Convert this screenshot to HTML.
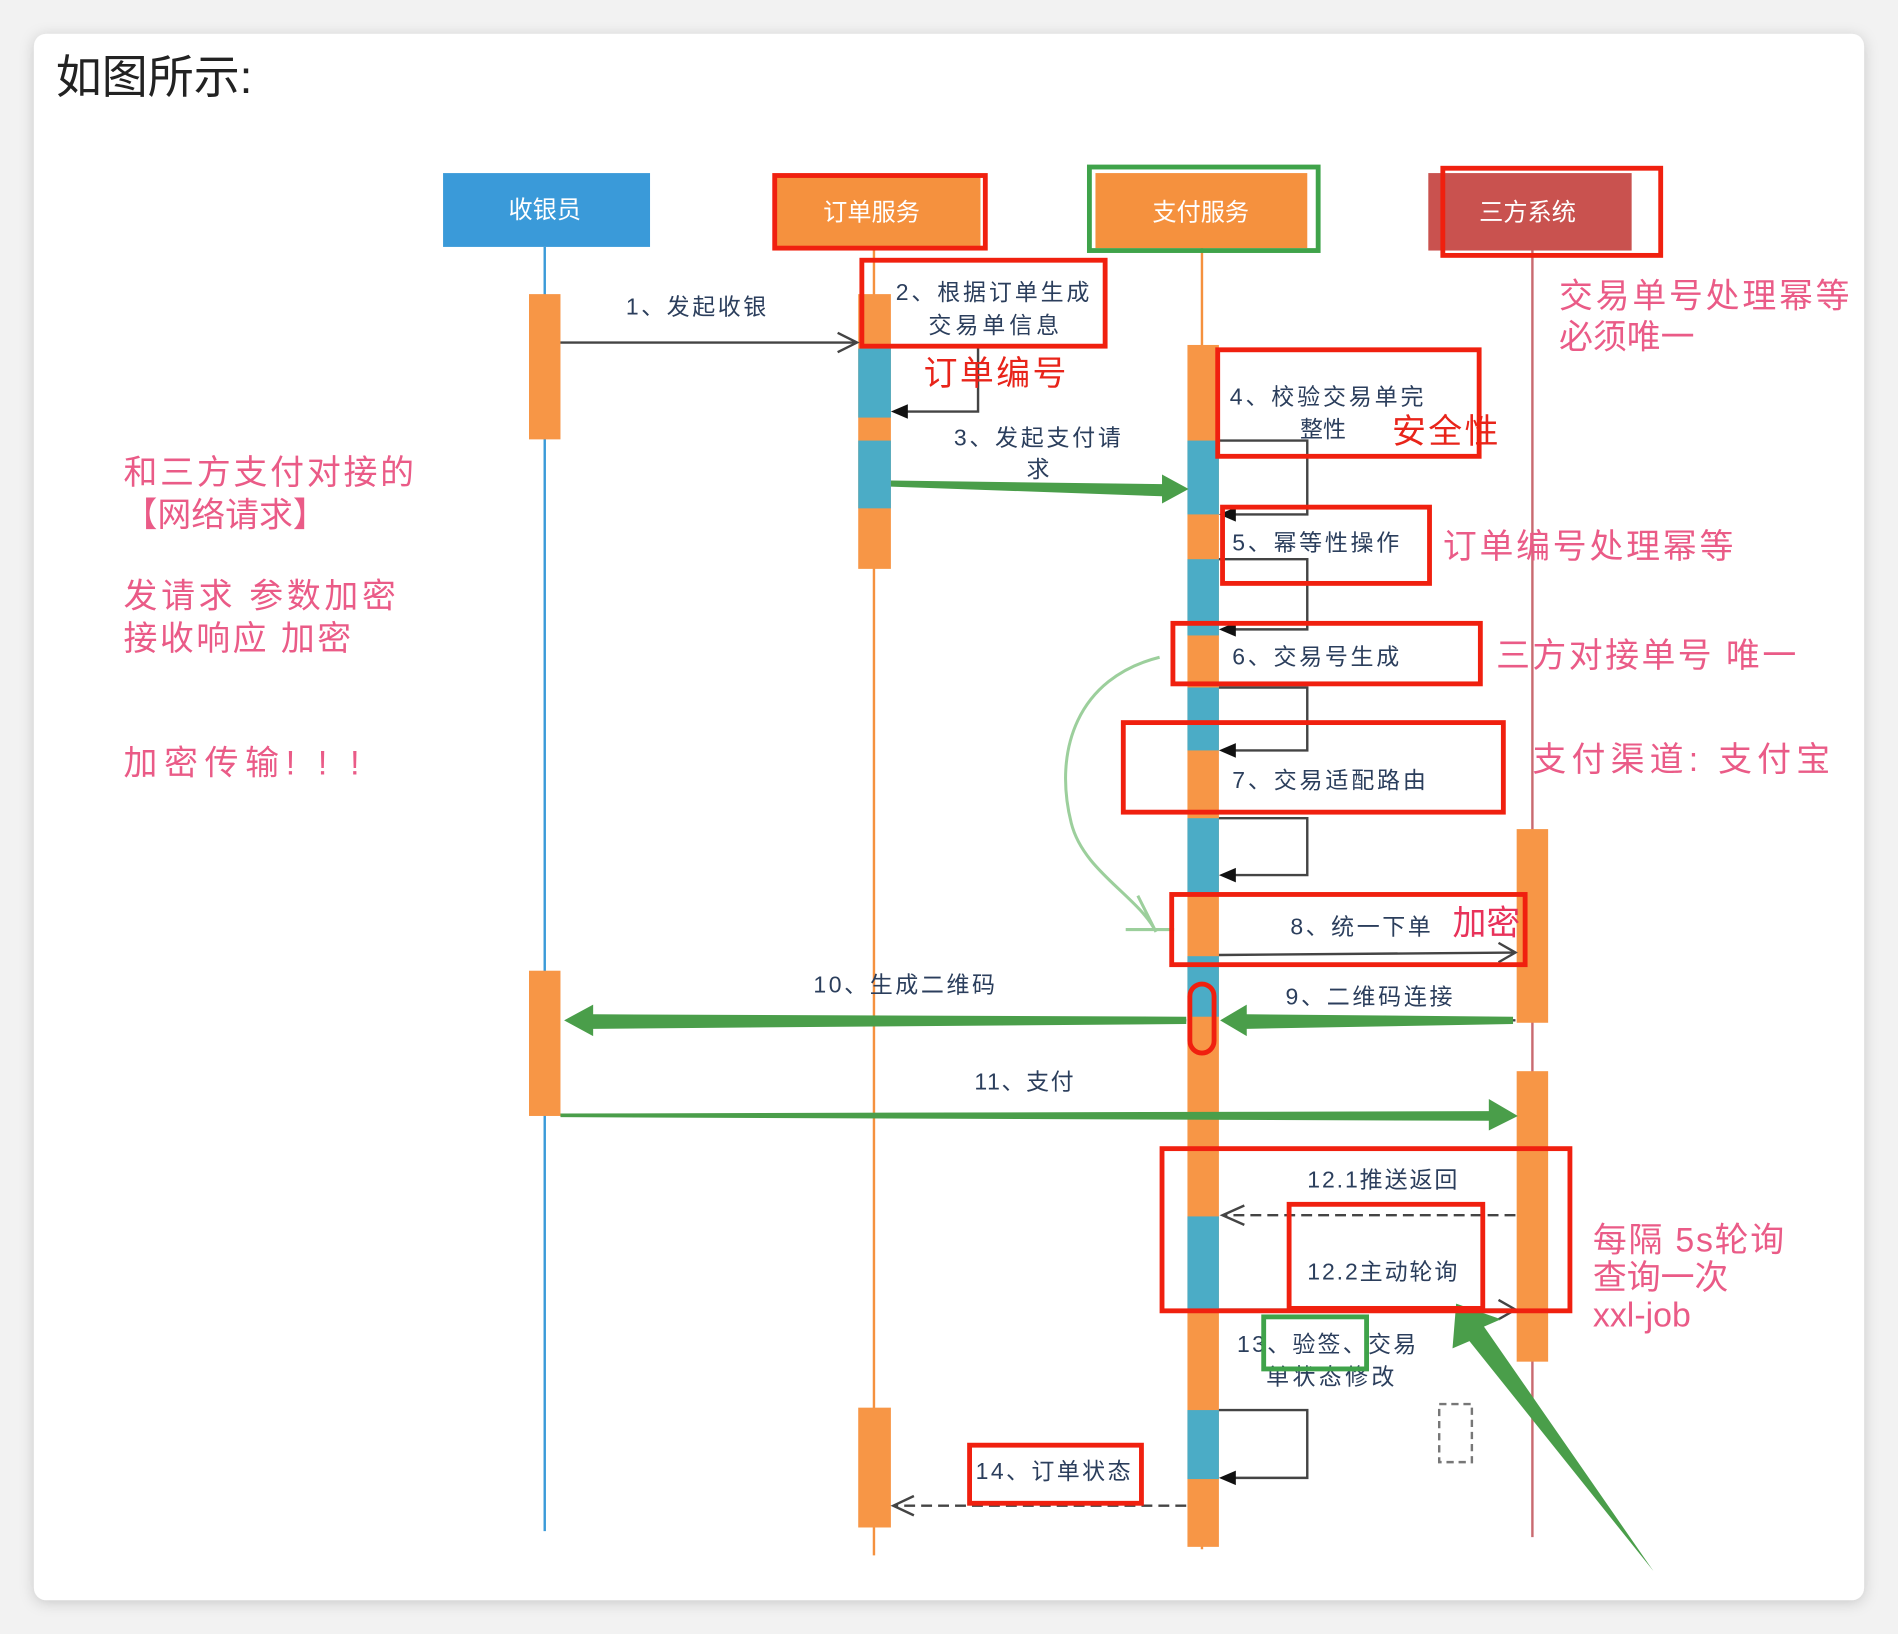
<!DOCTYPE html>
<html><head><meta charset="utf-8"><style>
html,body{margin:0;padding:0;background:#f2f2f2;}
svg{display:block}
text{font-family:"Liberation Sans","Noto Sans CJK SC",sans-serif;}
</style></head><body>
<svg width="1898" height="1634" viewBox="0 0 1568 1350" xmlns="http://www.w3.org/2000/svg">
<defs>
<filter id="sh" x="-5%" y="-5%" width="110%" height="110%"><feDropShadow dx="0" dy="2" stdDeviation="6" flood-color="#000" flood-opacity="0.18"/></filter>
</defs>
<rect x="0" y="0" width="1568" height="1350" fill="#f2f2f2"/>
<rect x="28" y="28" width="1512" height="1294" rx="10" fill="#fff" filter="url(#sh)"/>
<text x="46" y="77" font-size="38" fill="#222">如图所示:</text>

<!-- headers -->
<rect x="366" y="143" width="171" height="61" fill="#3a9ad9"/>
<text x="450" y="180" font-size="20" fill="#fff" text-anchor="middle">收银员</text>
<rect x="640" y="145" width="170" height="60" fill="#f5913e"/>
<text x="720" y="182" font-size="20" fill="#fff" text-anchor="middle">订单服务</text>
<rect x="905" y="143" width="175" height="62" fill="#f5913e"/>
<text x="992" y="182" font-size="20" fill="#fff" text-anchor="middle">支付服务</text>
<rect x="1180" y="143" width="168" height="64" fill="#c9524f"/>
<text x="1262" y="182" font-size="20" fill="#fff" text-anchor="middle">三方系统</text>

<!-- lifelines -->
<line x1="450" y1="204" x2="450" y2="1265" stroke="#3a9ad9" stroke-width="2"/>
<line x1="722" y1="205" x2="722" y2="1285" stroke="#f5913e" stroke-width="2"/>
<line x1="993" y1="205" x2="993" y2="1280" stroke="#f5913e" stroke-width="2"/>
<line x1="1266" y1="207" x2="1266" y2="1270" stroke="#c96a70" stroke-width="2"/>

<!-- activations -->
<rect x="437" y="243" width="26" height="120" fill="#f79646"/>
<rect x="437" y="802" width="26" height="120" fill="#f79646"/>
<rect x="709" y="243" width="27" height="227" fill="#f79646"/>
<rect x="709" y="288" width="27" height="57" fill="#4bacc6"/>
<rect x="709" y="364" width="27" height="56" fill="#4bacc6"/>
<rect x="709" y="1163" width="27" height="99" fill="#f79646"/>
<rect x="981" y="285" width="26" height="993" fill="#f79646"/>
<rect x="981" y="364" width="26" height="61" fill="#4bacc6"/>
<rect x="981" y="462" width="26" height="63" fill="#4bacc6"/>
<rect x="981" y="568" width="26" height="52" fill="#4bacc6"/>
<rect x="981" y="676" width="26" height="62" fill="#4bacc6"/>
<rect x="981" y="790" width="26" height="50" fill="#4bacc6"/>
<rect x="981" y="1005" width="26" height="77" fill="#4bacc6"/>
<rect x="981" y="1165" width="26" height="57" fill="#4bacc6"/>
<rect x="1253" y="685" width="26" height="160" fill="#f79646"/>
<rect x="1253" y="885" width="26" height="240" fill="#f79646"/>

<!-- messages -->
<g stroke="#444" stroke-width="2" fill="none">
<line x1="463" y1="283" x2="707" y2="283"/><path d="M692,275 L708,283 L692,291"/>
<path d="M808,287 L808,340 L740,340"/>
<path d="M1007,364 L1080,364 L1080,425 L1010,425"/>
<path d="M1007,462 L1080,462 L1080,520 L1010,520"/>
<path d="M1007,568 L1080,568 L1080,620 L1010,620"/>
<path d="M1007,676 L1080,676 L1080,723 L1010,723"/>
<path d="M1007,1165 L1080,1165 L1080,1221 L1010,1221"/>
<line x1="1007" y1="789" x2="1252" y2="787"/><path d="M1238,779 L1252,787 L1238,795"/>
<line x1="1252" y1="1004" x2="1010" y2="1004" stroke-dasharray="9,5"/><path d="M1028,996 L1010,1004 L1028,1012"/>
<line x1="1007" y1="1082" x2="1252" y2="1082"/><path d="M1238,1074 L1252,1082 L1238,1090"/>
<line x1="980" y1="1244" x2="738" y2="1244" stroke-dasharray="9,5"/><path d="M755,1236 L738,1244 L755,1252"/>
<line x1="980" y1="843" x2="470" y2="843" stroke-dasharray="9,5"/>
<line x1="1252" y1="843" x2="1010" y2="843" stroke-dasharray="9,5"/>
</g>
<g fill="#111">
<path d="M736,340 L750,334 L750,346Z"/><path d="M1007,425 L1021,419 L1021,431Z"/>
<path d="M1007,520 L1021,514 L1021,526Z"/><path d="M1007,620 L1021,614 L1021,626Z"/>
<path d="M1007,723 L1021,717 L1021,729Z"/><path d="M1007,1221 L1021,1215 L1021,1227Z"/>
</g>

<!-- green arrows -->
<g fill="#4a9e4a" stroke="none">
<path d="M736,397 L960,400 L960,392 L982,404 L960,416 L960,410 L736,402Z"/>
<path d="M1250,840 L1030,838 L1030,830 L1008,843 L1030,856 L1030,850 L1250,846Z"/>
<path d="M980,840 L490,838 L490,830 L466,843 L490,856 L490,850 L980,846Z"/>
<path d="M463,920 L1230,918 L1230,908 L1254,922 L1230,934 L1230,926 L463,923Z"/>
<path d="M1203,1077 L1240,1090 L1226,1096 L1366,1298 L1214,1108 L1200,1114Z"/>
</g>
<path d="M958,543 C890,560 870,620 885,680 C895,720 940,740 955,770 M930,768 L970,768 M940,740 L955,770" stroke="#9ccf9c" stroke-width="2.5" fill="none"/>

<!-- labels -->
<g font-size="19" fill="#2b3e5c">
<text x="517" y="260" textLength="116">1、发起收银</text>
<text x="740" y="248" textLength="160">2、根据订单生成</text>
<text x="767" y="275" textLength="108">交易单信息</text>
<text x="788" y="368" textLength="138">3、发起支付请</text>
<text x="848" y="394">求</text>
<text x="1016" y="334" textLength="160">4、校验交易单完</text>
<text x="1074" y="361">整性</text>
<text x="1018" y="455" textLength="138">5、幂等性操作</text>
<text x="1018" y="549" textLength="138">6、交易号生成</text>
<text x="1018" y="651" textLength="160">7、交易适配路由</text>
<text x="1066" y="772" textLength="116">8、统一下单</text>
<text x="672" y="820" textLength="150">10、生成二维码</text>
<text x="1062" y="830" textLength="138">9、二维码连接</text>
<text x="805" y="900" textLength="82">11、支付</text>
<text x="1080" y="981" textLength="124">12.1推送返回</text>
<text x="1080" y="1057" textLength="124">12.2主动轮询</text>
<text x="1022" y="1117" textLength="148">13、验签、交易</text>
<text x="1046" y="1144" textLength="106">单状态修改</text>
<text x="806" y="1222" textLength="128">14、订单状态</text>
</g>
<g font-size="28">
<text x="763" y="318" fill="#e8241a" textLength="118">订单编号</text>
<text x="1150" y="366" fill="#e8241a" textLength="88">安全性</text>
<text x="1200" y="772" fill="#e8325a">加密</text>
</g>
<g font-size="28" fill="#ea5b87">
<text x="1288" y="254" textLength="240">交易单号处理幂等</text>
<text x="1288" y="288">必须唯一</text>
<text x="1192" y="461" textLength="240">订单编号处理幂等</text>
<text x="1236" y="551" textLength="248">三方对接单号 唯一</text>
<text x="1266" y="637" textLength="246">支付渠道:  支付宝</text>
<text x="1316" y="1034" textLength="158">每隔 5s轮询</text>
<text x="1316" y="1065">查询一次</text>
<text x="1316" y="1096">xxl-job</text>
<text x="102" y="400" textLength="240">和三方支付对接的</text>
<text x="102" y="435">【网络请求】</text>
<text x="102" y="502" textLength="225">发请求  参数加密</text>
<text x="102" y="537" textLength="188">接收响应 加密</text>
<text x="102" y="640" textLength="195">加密传输! ! !</text>
</g>

<!-- highlight boxes -->
<g fill="none" stroke="#f0200f" stroke-width="4">
<rect x="640" y="145" width="174" height="60"/>
<rect x="1192" y="139" width="180" height="72"/>
<rect x="712" y="215" width="201" height="71"/>
<rect x="1006" y="289" width="216" height="88"/>
<rect x="1010" y="419" width="171" height="63"/>
<rect x="969" y="515" width="254" height="50"/>
<rect x="928" y="597" width="314" height="74"/>
<rect x="968" y="739" width="292" height="58"/>
<rect x="983" y="813" width="20" height="57" rx="10"/>
<rect x="960" y="949" width="337" height="134"/>
<rect x="1065" y="995" width="160" height="86"/>
<rect x="801" y="1194" width="142" height="48"/>
</g>
<g fill="none" stroke="#3fa34a" stroke-width="4">
<rect x="900" y="138" width="189" height="69"/>
<rect x="1044" y="1088" width="85" height="43"/>
</g>
<rect x="1189" y="1160" width="27" height="48" fill="none" stroke="#777" stroke-width="2" stroke-dasharray="6,4"/>
</svg>
</body></html>
